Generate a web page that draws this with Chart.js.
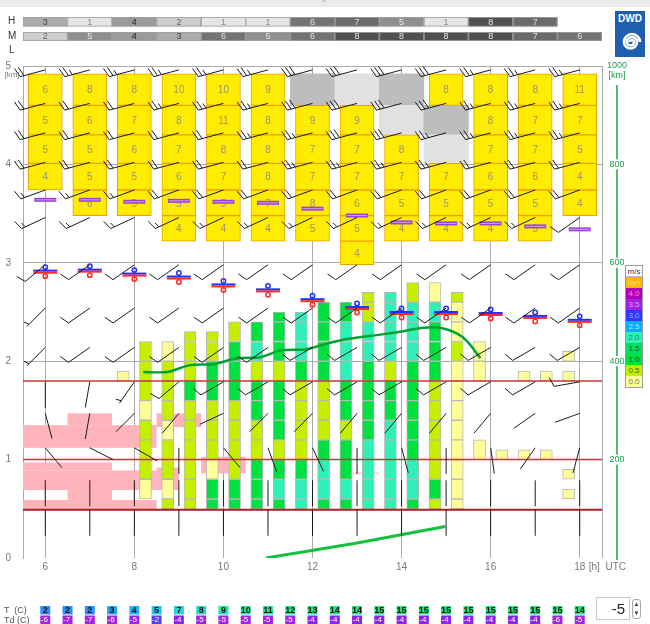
<!DOCTYPE html>
<html><head><meta charset="utf-8"><title>Meteogramm</title>
<script src="https://cdn.jsdelivr.net/npm/chart.js@4.4.1/dist/chart.umd.min.js"></script>
<style>
*{box-sizing:border-box}
html,body{margin:0;padding:0;background:#fff;}
body{width:650px;height:624px;position:relative;overflow:hidden;font-family:"Liberation Sans",Arial,Helvetica,sans-serif;}
#c{position:absolute;left:0;top:0;}
.lab{position:absolute;font-size:10px;color:#333;line-height:10px;white-space:pre;}
#topbar{position:absolute;left:0;top:0;width:650px;height:7px;background:#ebebeb;}
#topmark{position:absolute;left:322px;top:-2px;font-size:7px;color:#888;}
#logo{position:absolute;left:615px;top:11px;width:30px;height:46px;}
#legend{position:absolute;left:625px;top:265px;width:18px;border:1px solid #9a9a9a;background:#fff;}
#legend div{height:11px;font-size:8px;line-height:11px;text-align:center;}
#spin{position:absolute;left:596px;top:597px;width:34px;height:23px;border:1px solid #c8c8c8;font-size:15px;line-height:21px;text-align:right;padding-right:4px;color:#222;}
#spinbtn{position:absolute;left:632px;top:599px;width:9px;height:20px;border:1px solid #aaa;border-radius:3px;font-size:6px;line-height:9px;text-align:center;color:#333;}
</style></head>
<body>
<canvas id="c" width="650" height="624"></canvas>
<div id="topbar"></div>
<div id="topmark">^</div>
<div class="lab" style="left:8px;top:16px;">H</div>
<div class="lab" style="left:8px;top:31px;">M</div>
<div class="lab" style="left:9px;top:45px;">L</div>
<div class="lab" style="left:4px;top:605px;font-size:9px;color:#555;">T  (C)</div>
<div class="lab" style="left:4px;top:615px;font-size:9px;color:#555;">Td (C)</div>
<svg id="logo" viewBox="0 0 30 46" xmlns="http://www.w3.org/2000/svg">
  <rect x="0" y="0" width="30" height="46" fill="#1f5fb0"/>
  <text x="15" y="11" text-anchor="middle" font-family="Liberation Sans, Arial" font-weight="bold" font-size="10" fill="#fff">DWD</text>
  <path d="M15 31 A2 2 0 0 1 19 31 A3.5 3.5 0 0 1 12 31 A5 5 0 0 1 22 31 A6.5 6.5 0 0 1 9 31 A8 8 0 0 1 25 31" fill="none" stroke="#fff" stroke-width="2.6"/>
</svg>
<div id="legend"></div>
<div id="spin">-5</div>
<div id="spinbtn">▲<br>▼</div>
<script>
// ---------- data ----------
const hourList = [6,7,8,9,10,11,12,13,14,15,16,17,18];
const highCloudOcta = [3,1,4,2,1,1,6,7,5,1,8,7];
const midCloudOcta  = [2,5,4,3,6,5,6,8,8,8,8,7,6];
const halfHourList = [6,6.5,7,7.5,8,8.5,9,9.5,10,10.5,11,11.5,12,12.5,13,13.5,14,14.5,15,15.5,16,16.5,17,17.5,18];
const tempC = [2,2,2,3,4,5,7,8,9,10,11,12,13,14,14,15,15,15,15,15,15,15,15,15,14];
const dewC  = [-6,-7,-7,-6,-5,-2,-4,-5,-5,-5,-5,-5,-4,-4,-4,-4,-4,-4,-4,-4,-4,-4,-4,-6,-5];

// icing cells (top to bottom), 'G' grey / 'L' light grey
const icingBounds = [4.92,4.60,4.30,4.01,3.74,3.48,3.22,2.98];
const icingCells = [
  [6,5,5,4],
  [8,6,5,5,6],
  [8,7,6,5,5],
  [10,8,7,6,5,4],
  [10,11,8,7,5,4],
  [9,8,8,8,7,4],
  ['G',9,7,7,8,5],
  ['L',9,7,7,6,5,4],
  ['G','L',8,7,5,4],
  [8,'G','L',7,5,4],
  [8,8,7,6,5,4],
  [8,7,7,6,5,5],
  [11,7,5,4,4]
];
const zeroDegKm = [3.64,3.64,3.62,3.63,3.62,3.61,3.55,3.48,3.41,3.40,3.40,3.37,3.34];
const cloudBaseKm = [2.91,2.92,2.88,2.85,2.77,2.72,2.62,2.54,2.49,2.49,2.48,2.45,2.41];

// vertical velocity cells: 0.1 km steps from 0.5 km (spaces only group the 0.2 km cells)
const vvBounds = [0.5,0.6,0.8,1.0,1.2,1.4,1.6,1.8,2.0,2.2,2.4,2.6,2.8];
const vvHours = [7.75,8.25,8.75,9.25,9.75,10.25,10.75,11.25,11.75,12.25,12.75,13.25,13.75,14.25,14.75,15.25,15.75,16.25,16.75,17.25,17.75];
const vvCells = [
  ". .. .. .. .. .. .. Y.",
  ". YY GG GG GG YY GG GG GG",
  "G YY GG GG YY GG GG GG YY",
  "G GG GG GG GG GG gg GG GG G.",
  "g gg YY GG GG GG gg gg GG G.",
  "g gg GG GG GG GG gg gg gg GG",
  "g gg gg GG GG gg gg GG aa gg",
  "g aa gg GG gg gg gg GG gg gg g.",
  "a aa gg GG GG GG GG gg aa aa a.",
  "g aa aa gg GG GG GG gg gg gg gg",
  "g aa gg gg GG gg gg aa aa aa gg",
  "a aa aa aa gg gg gg gg aa aa GG G.",
  "a aa aa aa aa gg gg GG aa aa aa a.",
  "g aa aa gg gg gg gg gg aa aa aa GG",
  "G gg GG GG GG GG GG gg gg gg aa YY",
  "Y YY YY YY YY YY YY YY GG YY YY G.",
  ". .. .. YY .. .. .. YY YY",
  ". .. .. Y.",
  ". .. .. Y. .. .. .. Y.",
  ". .. .. Y. .. .. .. Y.",
  ". Y. Y. .. .. .. .. Y. Y."
];
const vvColors = {Y:'#ffff99', G:'#c4f000', g:'#00e040', a:'#30f0b8'};

// boundary layer top and low line
const blHours = [8.20,8.74,9.25,9.77,10.31,10.83,11.28,11.84,12.33,12.85,13.52,13.97,14.49,14.87,15.25,15.48,15.77];
const blKm    = [1.89,1.89,1.96,1.97,2.03,2.04,2.11,2.12,2.18,2.23,2.27,2.30,2.34,2.34,2.28,2.20,2.03];
const lowHours = [10.96,12.97,14.98];
const lowKm    = [0.0,0.15,0.32];
const redLevels = [1.8,1.0,0.49];

// low cloud (pink) areas
const pinkH0 = [6.5,5.5,5.5,5.5,6.5,5.5,8.5,9.5,8.5,12.6];
const pinkH1 = [7.5,8.5,7.5,8.5,7.5,8.5,9.5,10.5,9.0,13.5];
const pinkK0 = [1.35,1.12,0.89,0.69,0.59,0.49,1.33,0.86,0.69,0.85];
const pinkK1 = [1.47,1.35,0.97,0.89,0.69,0.59,1.47,1.03,0.92,0.87];

// wind barbs
const barbLevels = [4.96,4.62,4.32,4.02,3.74,3.46,2.98,2.54,2.14,1.79,1.47,1.12,0.79,0.49];
const barbDir = [
  [255,255,255,255,255,255,255,255,255,255,255,255,255],
  [255,255,255,255,255,255,255,255,255,255,255,255,255],
  [255,255,255,255,255,255,255,255,255,255,255,255,255],
  [255,255,255,255,255,255,255,255,255,255,255,255,255],
  [250,250,250,250,250,250,250,250,250,250,250,250,250],
  [245,245,245,245,245,245,245,245,245,245,245,245,235],
  [230,235,235,235,235,235,235,235,235,235,235,235,235],
  [225,235,235,235,235,235,235,235,235,235,235,235,235],
  [225,235,235,235,235,235,240,240,240,240,240,240,240],
  [180,190,215,230,240,240,240,240,240,240,240,240,260],
  [165,190,225,220,245,225,225,220,220,220,220,235,250],
  [140,117,120,180,140,160,155,180,165,180,172,215,195],
  [180,180,180,180,180,180,180,180,180,180,180,180,180],
  [180,180,180,180,180,180,180,180,180,180,180,180,180]
];
const barbSpd = [
  [20,25,25,25,25,25,30,30,30,30,25,25,25],
  [20,20,20,25,25,25,30,30,30,30,25,25,25],
  [20,20,20,20,20,25,25,30,30,25,25,25,25],
  [20,20,20,20,20,20,25,25,25,25,20,20,20],
  [15,15,15,20,20,20,20,20,20,20,20,20,20],
  [15,15,15,15,15,15,15,15,15,15,15,15,10],
  [10,10,10,10,10,10,10,10,10,10,10,10,10],
  [5,10,10,10,10,10,10,10,10,10,10,10,10],
  [5,10,10,10,10,10,10,10,10,10,10,10,10],
  [0,0,5,10,10,10,10,10,10,10,10,10,10],
  [0,0,0,0,0,0,0,0,0,0,0,0,0],
  [0,0,0,0,0,0,0,0,0,0,0,0,0],
  [0,0,0,0,0,0,0,0,0,0,0,0,0],
  [0,0,0,0,0,0,0,0,0,0,0,0,0]
];

const xTicks = [6,8,10,12,14,16,18];
const yTicks = [0,1,2,3,4,5];
const rightTicks = [200,400,600,800,1000];
const legendLabels = ['m/s','dyn','4.0','3.5','3.0','2.5','2.0','1.5','1.0','0.5','0.0'];
const legendColors = ['#ffffff','#ffb400','#b000b0','#a020e8','#3038ff','#00b0ff','#30f0b8','#00e060','#00e040','#c4f000','#ffff99'];
const legendText   = ['#333','#ffe070','#ff80ff','#e0a0ff','#9aa0ff','#a0e8ff','#108a70','#006020','#005010','#606000','#7a7a40'];

// ---------- legend (static html) ----------
const lg = document.getElementById('legend');
legendLabels.forEach((t,i)=>{const d=document.createElement('div');d.textContent=t;d.style.background=legendColors[i];d.style.color=legendText[i];if(i===0)d.style.borderBottom='1px solid #bbb';lg.appendChild(d);});

// ---------- build library data ----------
const icingYellow=[], icingGrey=[];
hourList.forEach((h,i)=>{
  icingCells[i].forEach((v,j)=>{
    const seg={x:h, y:[icingBounds[j+1], icingBounds[j]], v:v};
    if(typeof v==='number') icingYellow.push(seg); else icingGrey.push(seg);
  });
});
const vvData=[];
vvHours.forEach((h,b)=>{
  const s=vvCells[b].replace(/ /g,'');
  for(let k=0;k<vvBounds.length-1;k++){
    const lo=vvBounds[k], hi=vvBounds[k+1];
    const i0=Math.round((lo-0.5)*10), i1=Math.round((hi-0.5)*10);
    const chars=[]; for(let i=i0;i<i1;i++) chars.push(s[i]||'.');
    if(chars.every(c=>c===chars[0]) && chars[0]!=='.'){ vvData.push({x:h,y:[lo,hi],c:chars[0]}); }
    else chars.forEach((c,n)=>{ if(c!=='.') vvData.push({x:h,y:[Math.round((i0+n)+5)/10, Math.round((i0+n)+6)/10],c:c}); });
  }
});
const redSets = redLevels.map((v,i)=>({type:'line', label:'red'+i, data:[{x:5.5,y:v},{x:18.5,y:v}], borderColor: i===2?'#a82020':'#c83535', borderWidth: i===2?2:1.5, pointRadius:0, order:6}));

const octaFill = {1:'#e6e6e6',2:'#cdcdcd',3:'#ababab',4:'#9a9a9a',5:'#8f8f8f',6:'#737373',7:'#6a6a6a',8:'#505050'};
const octaText = {1:'#888',2:'#666',3:'#444',4:'#222',5:'#e8e8e8',6:'#e0e0e0',7:'#e0e0e0',8:'#e8e8e8'};
const tFill = {2:'#2890ff',3:'#22a6f2',4:'#22b4f0',5:'#26c4ee',7:'#22d4d8',8:'#22dcc8',9:'#22e4b6',10:'#22e8a0',11:'#22ea92',12:'#22ea88',13:'#22e880',14:'#22e87a',15:'#22e87a'};
const tdFill = {'-7':'#a424e0','-6':'#a424e0','-5':'#a024e6','-4':'#8e24ea','-2':'#5c40e6'};

const FONT = '"Liberation Sans", Arial, sans-serif';

function drawBarb(ctx,x,y,dir,spd){
  const L=26, a=dir*Math.PI/180;
  const ux=Math.sin(a), uy=-Math.cos(a);
  const ex=x+ux*L, ey=y+uy*L;
  ctx.beginPath(); ctx.moveTo(x,y); ctx.lineTo(ex,ey);
  const ta=Math.atan2(uy,ux)+70*Math.PI/180, tx=Math.cos(ta), ty=Math.sin(ta);
  let s=spd, pos=0;
  while(s>=10){ const px=ex-ux*pos, py=ey-uy*pos; ctx.moveTo(px,py); ctx.lineTo(px+tx*10,py+ty*10); pos+=4; s-=10; }
  if(s>=5){ if(pos===0) pos=3; const px=ex-ux*pos, py=ey-uy*pos; ctx.moveTo(px,py); ctx.lineTo(px+tx*5.5,py+ty*5.5); }
  ctx.stroke();
}

const drawPlugin = {
  id:'meteo',
  beforeDatasetsDraw(chart){
    const {ctx, scales:{x,y}} = chart;
    ctx.save(); 
    pinkH0.forEach((h0,i)=>{
      const X0=x.getPixelForValue(h0), X1=x.getPixelForValue(pinkH1[i]);
      const Y0=y.getPixelForValue(pinkK1[i]), Y1=y.getPixelForValue(pinkK0[i]);
      ctx.fillStyle = i===9 ? '#ffd0d0' : '#ffb4bc';
      ctx.fillRect(X0,Y0,X1-X0,Y1-Y0);
    });
    ctx.restore();
  },
  afterDatasetDraw(chart,args){
    const ds=chart.data.datasets[args.index];
    if(ds.label!=='icing') return;
    const ctx=chart.ctx; ctx.save();
    ctx.font='10px '+FONT; ctx.fillStyle='#9a9478'; ctx.textAlign='center'; ctx.textBaseline='middle';
    args.meta.data.forEach((el,i)=>{ ctx.fillText(String(ds.data[i].v), el.x, (el.y+el.base)/2+1); });
    ctx.restore();
  },
  afterDatasetsDraw(chart){
    const {ctx, scales:{x,y}} = chart;
    ctx.save();
    // cloud base markers
    hourList.forEach((h,i)=>{
      const px=x.getPixelForValue(h), py=y.getPixelForValue(cloudBaseKm[i]);
      ctx.lineWidth=2;
      ctx.strokeStyle='#2030ff'; ctx.beginPath(); ctx.moveTo(px-12,py-1); ctx.lineTo(px+12,py-1); ctx.stroke();
      ctx.strokeStyle='#ff2828'; ctx.beginPath(); ctx.moveTo(px-12,py+1); ctx.lineTo(px+12,py+1); ctx.stroke();
      ctx.lineWidth=1.5;
      ctx.strokeStyle='#2030ff'; ctx.beginPath(); ctx.arc(px,py-4.5,2.2,0,Math.PI*2); ctx.stroke();
      ctx.strokeStyle='#ff2828'; ctx.beginPath(); ctx.arc(px,py+4.5,2.2,0,Math.PI*2); ctx.stroke();
    });
    // wind barbs
    ctx.strokeStyle='#1a1a1a'; ctx.lineWidth=1;
    barbLevels.forEach((lv,j)=>{
      hourList.forEach((h,i)=>{ drawBarb(ctx, x.getPixelForValue(h), y.getPixelForValue(lv), barbDir[j][i], barbSpd[j][i]); });
    });
    ctx.restore();
  },
  afterDraw(chart){
    const {ctx, chartArea, scales:{x,y,y2}} = chart;
    ctx.save();
    ctx.textAlign='center'; ctx.textBaseline='middle';
    // H / M cloud octas
    const rows=[[highCloudOcta,17,9.5],[midCloudOcta,32,9]];
    rows.forEach(([arr,top,hgt])=>{
      arr.forEach((v,i)=>{
        const h=hourList[i], X0=x.getPixelForValue(h-0.5), X1=x.getPixelForValue(h+0.5);
        ctx.fillStyle=octaFill[v]; ctx.fillRect(X0,top,X1-X0,hgt);
        ctx.strokeStyle='#a0a0a0'; ctx.lineWidth=0.8; ctx.strokeRect(X0+0.4,top+0.4,X1-X0-0.8,hgt-0.8);
        ctx.fillStyle=octaText[v]; ctx.font='9px '+FONT; ctx.fillText(String(v),(X0+X1)/2,top+hgt/2+0.5);
      });
    });
    // T / Td boxes
    halfHourList.forEach((h,i)=>{
      const px=x.getPixelForValue(h);
      ctx.fillStyle=tFill[tempC[i]]||'#22e87a'; ctx.fillRect(px-5,606,10,8.5);
      ctx.fillStyle='#101010'; ctx.font='bold 9px '+FONT; ctx.fillText(String(tempC[i]),px,610.7);
      ctx.fillStyle=tdFill[String(dewC[i])]||'#a024e6'; ctx.fillRect(px-5,615.5,10,8.5);
      ctx.fillStyle='#ffffff'; ctx.font='8px '+FONT; ctx.fillText(String(dewC[i]),px-1,620);
    });
    // right axis
    const xr=chartArea.right+15;
    ctx.strokeStyle='#1aa048'; ctx.lineWidth=1.5;
    ctx.beginPath(); ctx.moveTo(xr,y2.getPixelForValue(1000)+19); ctx.lineTo(xr,y2.getPixelForValue(0)+2); ctx.stroke();
    ctx.font='9px '+FONT;
    rightTicks.forEach(v=>{
      const py=y2.getPixelForValue(v), t=String(v), w=ctx.measureText(t).width;
      ctx.fillStyle='#fff'; ctx.fillRect(xr-w/2-1,py-5,w+2,10);
      ctx.fillStyle='#1aa048'; ctx.fillText(t,xr,py);
    });
    ctx.fillText('[km]',xr,y2.getPixelForValue(1000)+10);
    // left unit and time unit
    ctx.fillStyle='#777'; ctx.font='8px '+FONT;
    ctx.fillText('[km]',12,y.getPixelForValue(5)+9);
    ctx.font='10px '+FONT; ctx.textAlign='left';
    ctx.fillText('[h]  UTC', x.getPixelForValue(18)+9, chartArea.bottom+9);
    ctx.restore();
  }
};

new Chart(document.getElementById('c'), {
  type:'bar',
  data:{ datasets:[
    {label:'grey', data:icingGrey, backgroundColor:c=>c.raw&&c.raw.v==='G'?'#bdbdbd':'#e1e1e1', borderWidth:0, barThickness:44.5, grouped:false, order:10},
    {label:'vv', data:vvData, backgroundColor:c=>c.raw?vvColors[c.raw.c]:'#fff', borderColor:'#b8b8b8', borderWidth:1, borderSkipped:false, barThickness:12, grouped:false, order:9},
    {label:'icing', data:icingYellow, backgroundColor:'#ffec00', borderColor:'#eca000', borderWidth:1, borderSkipped:false, barThickness:34, grouped:false, order:8},
    ...redSets,
    {type:'line', label:'bl', data:blHours.map((h,i)=>({x:h,y:blKm[i]})), borderColor:'#00a236', borderWidth:2.5, pointRadius:0, tension:0.25, order:5},
    {type:'line', label:'low', data:lowHours.map((h,i)=>({x:h,y:lowKm[i]})), borderColor:'#14c03c', borderWidth:3, pointRadius:0, order:5},
    {type:'line', label:'zero', data:hourList.map((h,i)=>({x:h,y:zeroDegKm[i]})), showLine:false, pointStyle:'line', pointRadius:11, pointBorderWidth:4, pointBorderColor:'#9c40dc', order:3},
    {type:'line', label:'zero2', data:hourList.map((h,i)=>({x:h,y:zeroDegKm[i]})), showLine:false, pointStyle:'line', pointRadius:10, pointBorderWidth:1, pointBorderColor:'#cf9cff', order:2}
  ]},
  options:{
    responsive:false, animation:false,
    layout:{padding:{left:0,right:48,top:66,bottom:52}},
    plugins:{legend:{display:false}, tooltip:{enabled:false}},
    scales:{
      x:{type:'linear', min:5.5, max:18.5, offset:false,
         grid:{offset:false, color:'#aaaaaa', lineWidth:1, drawTicks:false},
         border:{display:false},
         afterBuildTicks:s=>{ s.ticks=[5.5,...xTicks,18.5].map(v=>({value:v})); },
         afterFit:s=>{ s.height=14; },
         ticks:{autoSkip:false, maxRotation:0, padding:3, color:'#777', font:{size:10,family:FONT}, callback:v=>(v===5.5||v===18.5)?'':String(v)}},
      y:{type:'linear', min:0, max:5,
         grid:{color:c=>c.tick&&c.tick.value===0?'rgba(0,0,0,0)':'#aaaaaa', lineWidth:1, drawTicks:false},
         border:{display:true, color:'#aaaaaa'},
         afterBuildTicks:s=>{ s.ticks=yTicks.map(v=>({value:v})); },
         afterFit:s=>{ s.width=23; },
         ticks:{padding:12, color:'#777', font:{size:10,family:FONT}}},
      y2:{type:'linear', display:false, position:'right', min:0, max:1000}
    }
  },
  plugins:[drawPlugin]
});
</script>
</body></html>
